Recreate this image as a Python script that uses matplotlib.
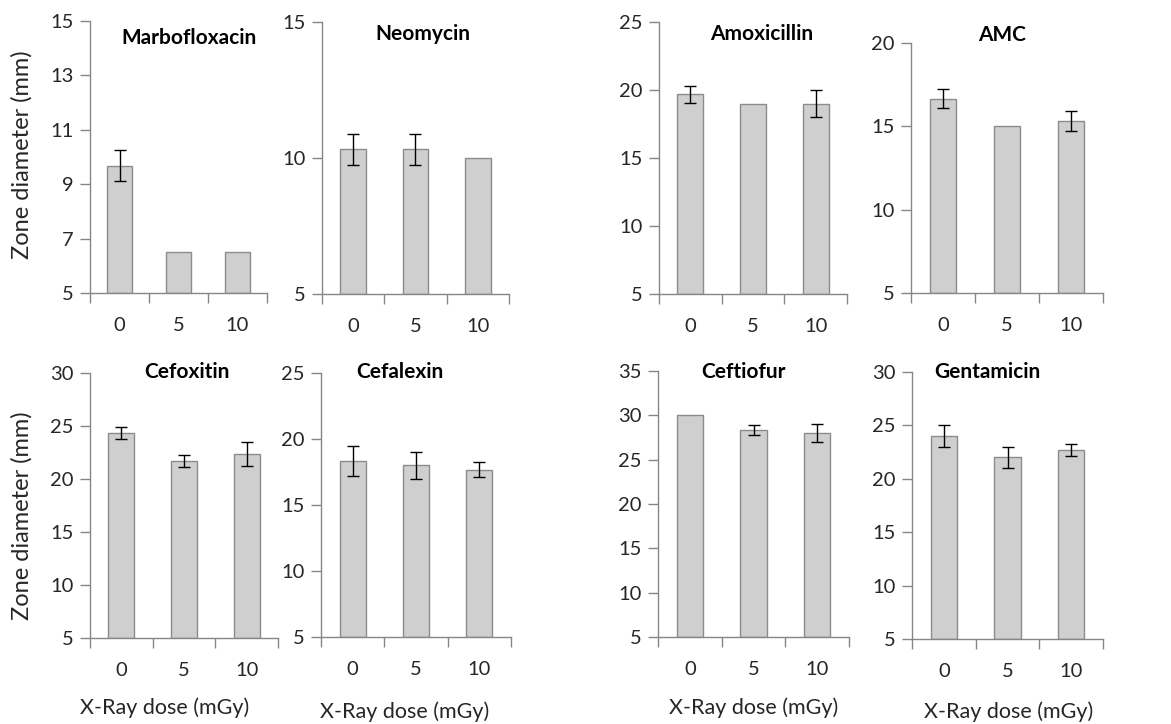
import matplotlib
matplotlib.use("Agg")
import matplotlib.pyplot as plt
import numpy as np

plt.rcParams['font.family'] = ['Lato', 'DejaVu Sans']

doses = ["0", "5", "10"]
drugs = ["Marbofloxacin", "Neomycin", "Amoxicillin", "AMC",
         "Cefoxitin", "Cefalexin", "Ceftiofur", "Gentamicin"]

# mean zone diameter (mm) and error, one row per drug
means = [
    [9.67, 6.5, 6.5],
    [10.33, 10.33, 10.0],
    [19.67, 19.0, 19.0],
    [16.67, 15.0, 15.33],
    [24.33, 21.67, 22.33],
    [18.33, 18.0, 17.67],
    [30.0, 28.33, 28.0],
    [24.0, 22.0, 22.67],
]
errors = [
    [0.57, 0.0, 0.0],
    [0.57, 0.57, 0.0],
    [0.6, 0.0, 1.0],
    [0.58, 0.0, 0.58],
    [0.55, 0.55, 1.15],
    [1.15, 1.0, 0.55],
    [0.0, 0.58, 1.0],
    [1.0, 1.0, 0.58],
]
y_max = [15, 15, 25, 20, 30, 25, 35, 30]
y_step = [2, 5, 5, 5, 5, 5, 5, 5]

# panel boxes in pixels: left, right, top, bottom
boxes = [
    (90, 267, 21, 293), (322, 509, 22, 294), (659, 847, 22, 294), (911, 1103, 43, 293),
    (90, 278, 373, 638), (321, 511, 373, 637), (658, 849, 371, 637), (912, 1103, 372, 639),
]
title_pos = [(189, 38), (423, 34), (762, 34), (1002, 35),
             (187, 372), (400, 372), (744, 372), (987, 372)]
xlab_pos = [(165, 708), (405, 712), (754, 708), (1009, 712)]

W, H = 1171, 724
fig = plt.figure(figsize=(W / 100, H / 100), dpi=100)

axis_col = "#868686"
text_col = "#262626"

for i, drug in enumerate(drugs):
    x0, x1, yt, yb = boxes[i]
    ax = fig.add_axes([x0 / W, 1 - yb / H, (x1 - x0) / W, (yb - yt) / H])
    pos = np.arange(len(doses)) + 0.5
    ax.bar(pos, np.array(means[i]) - 5, bottom=5, width=0.41,
           color="#d0cfd0", edgecolor="#8c8c8c", linewidth=1.0, zorder=2)
    err = np.array(errors[i])
    m = err > 0
    ax.errorbar(pos[m], np.array(means[i])[m], yerr=err[m], fmt="none",
                ecolor="black", elinewidth=1.0, capsize=4, capthick=1.0, zorder=3)
    ax.set_xlim(0, 3)
    ax.set_ylim(5, y_max[i])
    ax.set_yticks(np.arange(5, y_max[i] + 0.1, y_step[i]))
    ax.set_xticks([0, 1, 2, 3])
    ax.set_xticklabels([])
    ax.set_xticks(pos, minor=True)
    ax.set_xticklabels(doses, minor=True)
    ax.tick_params(axis="x", which="major", length=7, width=1, color=axis_col, direction="out")
    ax.tick_params(axis="x", which="minor", length=0, pad=17, labelsize=14.5, labelcolor=text_col)
    ax.tick_params(axis="y", length=7, width=1, color=axis_col, direction="out",
                   pad=5, labelsize=14.5, labelcolor=text_col)
    for s in ["top", "right"]:
        ax.spines[s].set_visible(False)
    for s in ["left", "bottom"]:
        ax.spines[s].set_color(axis_col)
        ax.spines[s].set_linewidth(1.0)
    ax.spines["bottom"].set_zorder(4)
    tx, ty = title_pos[i]
    fig.text(tx / W, 1 - ty / H, drug, ha="center", va="center",
             fontsize=15, fontweight="bold", color="black")

for yc in [155, 516]:
    fig.text(22 / W, 1 - yc / H, "Zone diameter (mm)", rotation=90, ha="center", va="center",
             fontsize=17, color=text_col)
for x, y in xlab_pos:
    fig.text(x / W, 1 - y / H, "X-Ray dose (mGy)", ha="center", va="center",
             fontsize=15.5, color=text_col)

fig.savefig("out.png", dpi=100)
